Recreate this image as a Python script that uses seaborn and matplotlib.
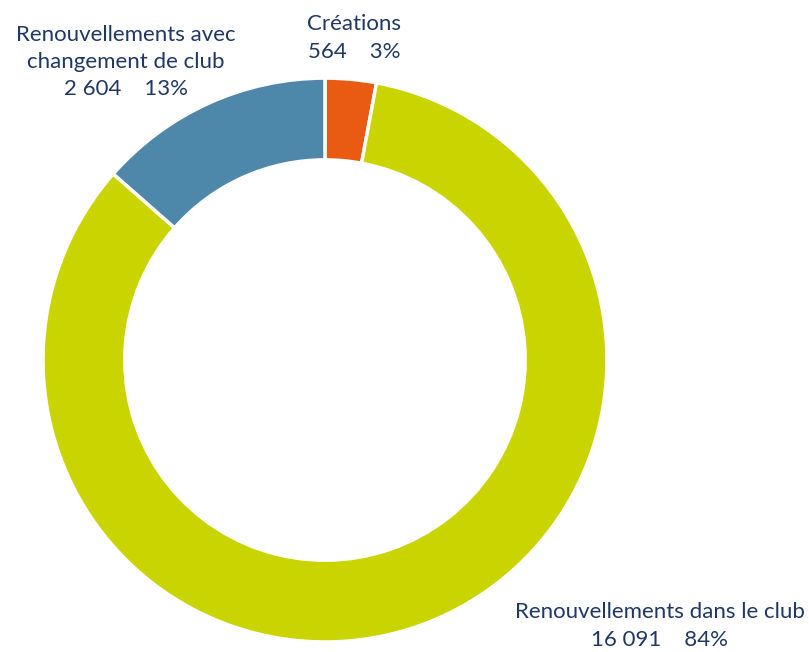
import numpy as np
import pandas as pd
import seaborn as sns
import matplotlib.pyplot as plt

# licences by type
categories = ["Créations", "Renouvellements dans le club", "Renouvellements avec\nchangement de club"]
counts = [564, 16091, 2604]
count_labels = ["564", "16 091", "2 604"]
percents = [3, 84, 13]
colors = ["#E95B12", "#C9D400", "#4D87AA"]


def plot_donut(df):
    """
    Donut chart of licence types
    """

    sns.set_theme(style="white")
    plt.rcParams["font.family"] = ["Lato", "DejaVu Sans"]

    fig = plt.figure(figsize=(8.09, 6.52), dpi=100)
    ax = fig.add_axes([0.0532, 0.0153, 0.697, 0.865])

    ax.pie(
        df["count"],
        colors=df["color"],
        startangle=90,
        counterclock=False,
        radius=1,
        wedgeprops=dict(width=0.29, edgecolor="white", linewidth=2.5),
    )
    ax.set_xlim(-1, 1)
    ax.set_ylim(-1, 1)
    ax.set_aspect("equal")
    ax.axis("off")

    label_pos = [(0.103, 1.142), (1.188, -0.943), (-0.706, 1.057)]

    for (x, y), (_, row) in zip(label_pos, df.iterrows()):
        text = f"{row['category']}\n{row['label']}    {row['pct']}%"
        ax.text(
            x, y, text,
            ha="center", va="center",
            fontsize=16, color="#1F3864",
            linespacing=1.45, clip_on=False,
        )

    fig.savefig("out.png", dpi=100)


df = pd.DataFrame({
    "category": categories,
    "count": counts,
    "label": count_labels,
    "pct": percents,
    "color": colors,
})

plot_donut(df)
